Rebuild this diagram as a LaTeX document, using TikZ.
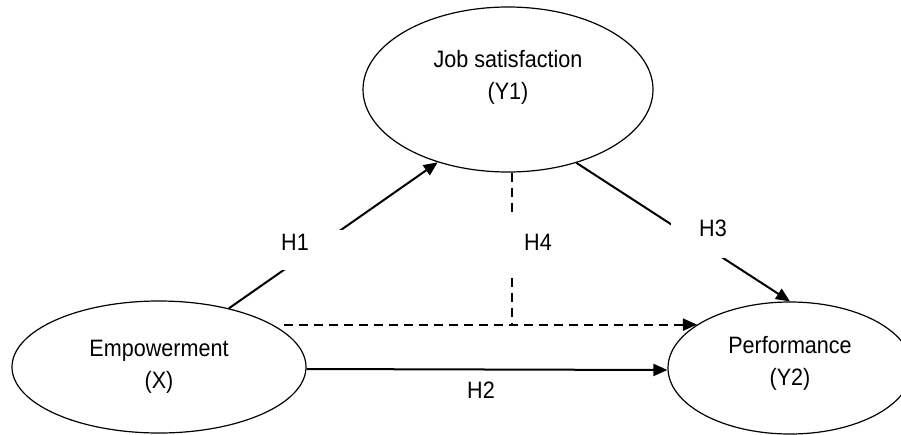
\documentclass[tikz,border=0pt]{standalone}
\usepackage{fontspec}
\setmainfont[FakeStretch=0.91]{Liberation Sans}
\usetikzlibrary{shapes.geometric,arrows.meta}
\begin{document}
\begin{tikzpicture}[x=1pt,y=-1pt,
  oval/.style={ellipse, draw, line width=1.2pt, inner sep=0pt},
  txt/.style={align=center, font=\fontsize{23.7}{32}\selectfont, inner sep=0pt},
  lbl/.style={font=\fontsize{23.7}{28}\selectfont, inner sep=0pt},
  conn/.style={line width=2pt, -{Triangle[length=14pt,width=12pt]}},
  dconn/.style={line width=2pt, dash pattern=on 9pt off 6pt},
  gapbox/.style={fill=white}]
\useasboundingbox (0,0) rectangle (901,434);
% ellipses
\node[oval, minimum width=290pt, minimum height=165pt] (js) at (508,89.5) {};
\node[oval, minimum width=294pt, minimum height=132pt] (emp) at (159,367) {};
\node[oval, minimum width=244pt, minimum height=132pt] (perf) at (790,368) {};
% texts
\node[txt] (jst) at (508,77) {Job satisfaction\\(Y1)};
\node[txt] (empt) at (159,367) {Empowerment\\(X)};
\node[txt] (perft) at (790,363.5) {Performance\\(Y2)};
% connectors
\draw[conn] (emp.40) -- (js.226);
\draw[conn] (js.-47) -- (perf.90);
\draw[conn] ([yshift=-2pt]emp.east) -- ([yshift=-2pt]perf.west);
\coordinate (j) at ([xshift=4pt]js.south |- perf.155);
\draw[dconn] ([xshift=4pt]js.south) -- (j);
\draw[dconn, -{Triangle[length=14pt,width=12pt]}] ([xshift=8pt]emp.19 |- perf.155) -- (perf.155);
% gaps under labels
\fill[gapbox] (262,230) rectangle (343,270);
\fill[gapbox] (671,210) rectangle (760,258);
\fill[gapbox] (505,217) rectangle (575,274);
% labels
\node[lbl] (h1) at (295,242) {H1};
\node[lbl] (h3) at (713,228) {H3};
\node[lbl] (h4) at (538,242) {H4};
\node[lbl] (h2) at (481,390) {H2};
\end{tikzpicture}
\end{document}
